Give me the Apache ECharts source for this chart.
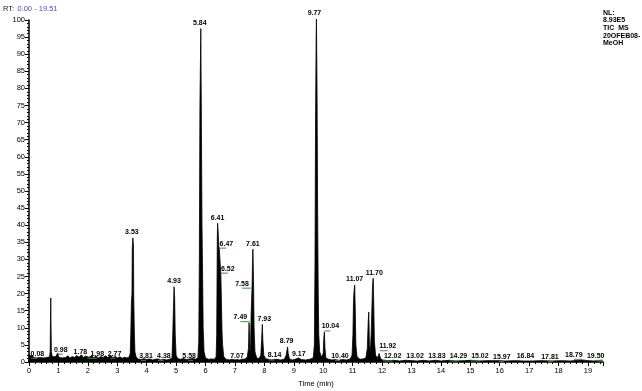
<!DOCTYPE html>
<html><head><meta charset="utf-8">
<script src="https://cdn.jsdelivr.net/npm/echarts@6/dist/echarts.min.js"></script>
<style>html,body{margin:0;padding:0;background:#fff}#c{width:642px;height:391px}</style>
</head><body><div id="c"></div>
<script>
// chromatogram trace (time in min, relative abundance %)
const times = [0.00,0.01,0.03,0.06,0.08,0.12,0.16,0.20,0.25,0.30,0.36,0.42,0.48,0.54,0.60,0.66,0.70,0.72,0.73,0.74,0.75,0.76,0.79,0.84,0.90,0.95,0.98,1.01,1.06,1.12,1.18,1.25,1.32,1.40,1.47,1.55,1.62,1.70,1.78,1.85,1.92,1.98,2.05,2.12,2.20,2.28,2.36,2.44,2.52,2.60,2.68,2.77,2.85,2.93,3.01,3.09,3.17,3.25,3.33,3.40,3.44,3.46,3.48,3.50,3.51,3.53,3.55,3.56,3.58,3.60,3.64,3.70,3.81,3.90,4.00,4.10,4.20,4.30,4.38,4.48,4.58,4.68,4.78,4.86,4.89,4.91,4.93,4.95,4.97,5.00,5.05,5.15,5.25,5.35,5.45,5.58,5.66,5.74,5.77,5.79,5.81,5.84,5.86,5.88,5.90,5.92,5.95,6.00,6.10,6.20,6.30,6.36,6.38,6.40,6.41,6.43,6.45,6.47,6.49,6.51,6.52,6.54,6.56,6.58,6.62,6.70,6.80,6.90,7.00,7.07,7.15,7.25,7.35,7.42,7.46,7.48,7.49,7.51,7.53,7.55,7.57,7.58,7.60,7.61,7.63,7.65,7.68,7.74,7.82,7.88,7.91,7.93,7.95,7.98,8.05,8.14,8.25,8.40,8.55,8.68,8.74,8.77,8.79,8.81,8.85,8.95,9.05,9.17,9.25,9.40,9.55,9.66,9.70,9.72,9.74,9.76,9.77,9.79,9.81,9.83,9.85,9.88,9.94,10.00,10.02,10.04,10.06,10.09,10.18,10.30,10.40,10.52,10.65,10.80,10.92,10.98,11.01,11.03,11.05,11.07,11.09,11.11,11.15,11.25,11.35,11.45,11.50,11.53,11.55,11.57,11.60,11.63,11.66,11.68,11.70,11.72,11.74,11.78,11.85,11.90,11.92,11.95,12.02,12.2,12.4,12.6,12.8,13.02,13.2,13.4,13.6,13.83,14.0,14.29,14.5,14.8,15.02,15.3,15.6,15.97,16.2,16.5,16.84,17.1,17.4,17.81,18.1,18.4,18.79,19.0,19.2,19.50];
const abundance = [0,2.5,1.8,2.2,1.4,1.9,1.3,1.7,1.2,1.6,1.3,1.8,1.2,1.6,1.3,1.7,1.5,3,12,18.7,10,3,1.6,1.2,1.5,1.3,2.6,1.4,1.7,1.2,1.6,1.3,1.8,1.2,1.6,1.3,1.9,1.4,2.1,1.3,1.7,2.0,1.4,1.8,1.3,1.7,1.2,1.6,1.3,1.8,1.3,1.9,1.3,1.6,1.2,1.5,1.1,1.4,1.2,1.4,2.5,8,17,20,33,36.3,34,19,9,3,1.5,0.9,0.7,1.0,0.7,0.9,0.6,0.8,0.9,0.6,0.8,0.6,0.8,1.2,9,16,22,19,8,2,1.0,0.8,1.0,0.7,0.9,1.0,0.8,1.2,6,30,75,97.5,70,40,26,10,3,1.2,0.8,0.9,0.8,1.5,8,36,40.6,38,34,33,30,27,25.7,18,9,5,1.5,0.8,0.6,0.8,0.6,0.7,0.6,0.8,0.9,1.5,4,11.5,11,3,4,14,19,21.3,30,33,25,10,3,1.2,1.0,2,7,11,6,2,0.9,0.8,0.6,0.8,0.6,0.8,2,3.5,4.4,2.5,0.9,0.6,0.8,1.2,0.7,0.6,0.8,1.2,5,28,70,95,100.3,80,45,20,8,3,1.4,2.5,7,8.8,4,1.2,0.8,0.6,0.7,0.5,0.7,0.6,0.9,2,8,18,21,22.5,15,5,1.5,0.8,0.9,1.2,4,12,14.6,5,3,8,17,23,24.5,16,6,2,1.2,2.5,3,1,0.6,0.4,0.5,0.3,0.5,0.4,0.3,0.5,0.3,0.5,0.3,0.5,0.3,0.4,0.5,0.3,0.4,0.4,0.3,0.4,0.3,0.3,0.4,0.3,0.4,0.3,0.6,0.4,0.3,0.5];

// peak annotations: retention time and abundance where the label sits
const peakTimes = [0.08,0.98,1.78,1.98,2.77,3.53,3.81,4.38,4.93,5.58,5.84,6.41,6.47,6.52,7.07,7.49,7.58,7.61,7.93,8.14,8.79,9.17,9.77,10.04,10.40,11.07,11.70,11.92,12.02,13.02,13.83,14.29,15.02,15.97,16.84,17.81,18.79,19.50];
const peakHeights = [0.8,2,1.3,0.8,0.8,36.3,0.2,0.2,22,0.2,97.5,40.6,33,25.7,0,11.5,21.3,33,11,0.3,4.4,0.6,100.3,8.8,0.2,22.5,24.5,3,0,0,0,0,0,-0.2,0,-0.2,0.5,0.2];
// label layout hints (pixel nudge, leader flag)
const labelNudge = [6,3,-1,10,4,-1,5,6,0,-4,-1,0,7,7,0,-9,-10,0,2,6,-1,0,-2,6,5,0,1,8,10,3,1,9,9,3,1,-3,-8,-7];
const leader = [1,1,0,1,1,0,1,1,0,1,0,0,1,1,0,1,1,0,0,1,0,0,0,1,1,0,0,1,1,0,0,1,1,1,0,1,1,1];

const xTicks = [0,1,2,3,4,5,6,7,8,9,10,11,12,13,14,15,16,17,18,19];
const yTicks = [0,5,10,15,20,25,30,35,40,45,50,55,60,65,70,75,80,85,90,95,100];

const chart = echarts.init(document.getElementById('c'), null, {renderer:'canvas'});
const FONT = 'Liberation Sans';
const trace = times.map((t,i)=>[t, abundance[i]]);
const labels = peakTimes.map((t,i)=>[t, peakHeights[i], i]);

chart.setOption({
  animation:false,
  backgroundColor:'#fff',
  grid:{left:29, right:39, top:20, bottom:29, containLabel:false, outerBoundsMode:'none'},
  xAxis:{
    type:'value', min:0, max:19.51, interval:1,
    name:'Time (min)', nameLocation:'middle', nameGap:16,
    nameTextStyle:{fontFamily:FONT, fontSize:7.5, color:'#000'},
    axisLine:{lineStyle:{color:'#000', width:1.5}},
    axisTick:{length:4, lineStyle:{color:'#000', width:1}},
    minorTick:{show:true, splitNumber:5, length:2, lineStyle:{color:'#000'}},
    splitLine:{show:false},
    axisLabel:{fontFamily:FONT, fontSize:7.5, color:'#000', margin:5,
      formatter:v=> xTicks.includes(v) ? String(v) : ''}
  },
  yAxis:{
    type:'value', min:0, max:100, interval:5,
    name:'Relative Abundance', nameLocation:'middle', nameGap:19, nameRotate:90,
    nameTextStyle:{fontFamily:FONT, fontSize:7.5, color:'#000'},
    axisLine:{show:true, lineStyle:{color:'#000', width:1.5}},
    axisTick:{show:true, length:4, lineStyle:{color:'#000', width:1}},
    minorTick:{show:true, splitNumber:5, length:2, lineStyle:{color:'#000'}},
    splitLine:{show:false},
    axisLabel:{fontFamily:FONT, fontSize:7.5, color:'#000', margin:4,
      formatter:v=> yTicks.includes(v) ? String(v) : ''}
  },
  series:[
    {type:'line', data:trace, symbol:'none', smooth:false, clip:false,
     lineStyle:{color:'#000', width:0.8}, areaStyle:{color:'#000', opacity:1}, z:2},
    {type:'custom', data:labels, clip:false, z:5,
     renderItem:(params, api)=>{
       const i = api.value(2);
       const p = api.coord([api.value(0), api.value(1)]);
       const dx = labelNudge[i];
       const children = [];
       if (leader[i]) {
         const x2 = p[0] + (Math.abs(dx) < 5 ? (dx>=0?5:-5) : dx);
         children.push({type:'line', shape:{x1:p[0], y1:p[1]-1, x2:x2, y2:p[1]-1},
           style:{stroke:'#2aa02a', lineWidth:1}});
       }
       children.push({type:'text', x:p[0]+dx, y:p[1]-2,
         style:{text:peakTimes[i].toFixed(2), textAlign:'center', textVerticalAlign:'bottom',
           font:'bold 7px '+FONT, fill:'#000'}});
       return {type:'group', children};
     }}
  ],
  graphic:[
    {type:'text', left:3, top:3, style:{rich:{a:{fill:'#222', font:'7.5px '+FONT}, b:{fill:'#4a4ac8', font:'7.5px '+FONT}},
      text:'{a|RT:} {b|0.00 - 19.51}'}},
    {type:'text', left:603, top:9, style:{text:'NL:\n8.93E5\nTIC  MS\n20OFEB08-\nMeOH', font:'bold 7px '+FONT, fill:'#000', lineHeight:7.6}}
  ]
});
</script></body></html>
